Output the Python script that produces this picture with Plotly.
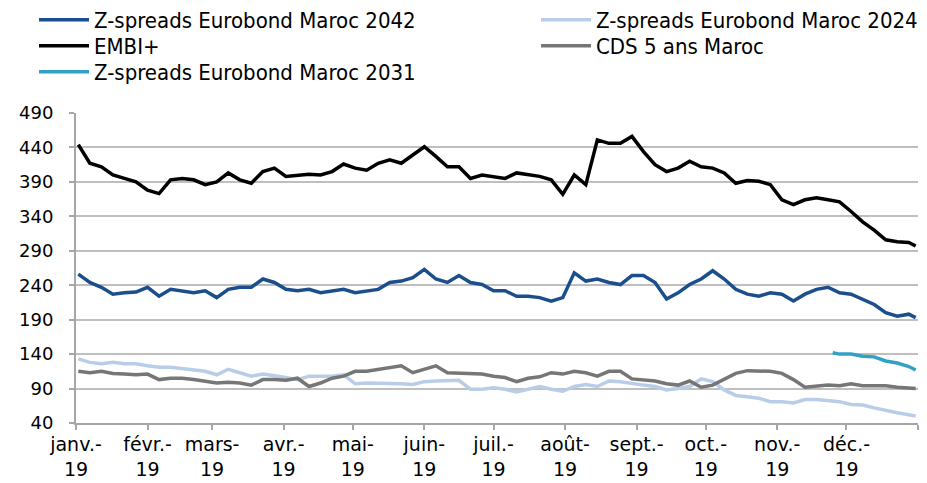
import pandas as pd
import plotly.graph_objects as go

# sampling dates (every 5 days) + year end
dates = list(pd.date_range("2019-01-02", periods=73, freq="5D")) + [pd.Timestamp("2019-12-31")]

embi = [444, 417, 412, 400, 395, 390, 378, 373, 393, 395, 393, 386, 390, 403, 393, 388,
        405, 410, 398, 399, 401, 400, 405, 416, 410, 407, 417, 422, 417, 429, 441, 427,
        412, 412, 395, 400, 398, 395, 403, 400, 398, 393, 372, 400, 386, 451, 446, 446,
        456, 434, 415, 405, 410, 420, 412, 410, 403, 388, 392, 391, 386, 364, 357, 364,
        367, 364, 361, 347, 332, 320, 306, 303, 302, 297]

z2042 = [256, 244, 237, 227, 229, 230, 237, 224, 234, 232, 229, 232, 222, 234, 237, 237,
         249, 244, 234, 232, 234, 229, 232, 234, 229, 232, 234, 244, 246, 251, 263, 249,
         244, 254, 244, 241, 232, 232, 224, 224, 222, 217, 222, 258, 246, 249, 244, 241,
         254, 254, 244, 220, 229, 241, 249, 261, 249, 234, 227, 224, 229, 227, 217, 227,
         234, 237, 229, 227, 220, 212, 200, 195, 198, 193]

z2024 = [133, 128, 126, 128, 126, 126, 123, 121, 121, 119, 118, 115, 110, 118, 113, 108,
         111, 109, 106, 103, 108, 108, 108, 110, 97, 98, 98, 98, 97, 96, 100, 101,
         101, 102, 89, 89, 91, 89, 85, 89, 93, 89, 86, 93, 96, 93, 101, 100,
         97, 95, 93, 88, 90, 93, 104, 100, 88, 80, 78, 76, 71, 71, 69, 74,
         74, 72, 71, 67, 66, 62, 58, 55, 52, 50]

cds = [115, 113, 115, 112, 111, 110, 111, 103, 105, 105, 103, 101, 98, 99, 98, 95,
       103, 103, 102, 105, 93, 98, 105, 108, 115, 115, 118, 120, 123, 113, 118, 123,
       113, 112, 111, 111, 108, 106, 100, 105, 107, 113, 111, 115, 113, 108, 115, 115,
       104, 102, 101, 97, 95, 101, 92, 95, 103, 112, 116, 116, 115, 112, 103, 92,
       94, 95, 94, 97, 94, 94, 94, 92, 91, 90]

dates_2031 = ["2019-11-25", "2019-11-28", "2019-12-03", "2019-12-08", "2019-12-13",
              "2019-12-18", "2019-12-23", "2019-12-28", "2019-12-31"]
z2031 = [142, 140, 140, 137, 136, 130, 127, 122, 117]

month_ticks = ["2019-%02d-01" % m for m in range(1, 13)] + ["2020-01-01"]
month_labels = ["janv.-", "févr.-", "mars-", "avr.-", "mai-", "juin-", "juil.-",
                "août-", "sept.-", "oct.-", "nov.-", "déc.-"]
tick_text = [m + "<br>19" for m in month_labels] + [""]

COND = "DejaVu Sans Condensed, DejaVu Sans, sans-serif"

# page body has an 8px margin, so the figure is sized to fill the rest of the window
W, H = 919, 475

fig = go.Figure()
# (name, x, y, colour, legend slot)
series = [
    ("Z-spreads Eurobond Maroc 2042", dates, z2042, "#1B4E8C", "legend"),
    ("Z-spreads Eurobond Maroc 2024", dates, z2024, "#B9CDE8", "legend2"),
    ("EMBI+", dates, embi, "#000000", "legend3"),
    ("CDS 5 ans Maroc", dates, cds, "#767676", "legend4"),
    ("Z-spreads Eurobond Maroc 2031", dates_2031, z2031, "#33A1C4", "legend5"),
]
for name, xs, ys, col, leg in series:
    fig.add_trace(go.Scatter(x=xs, y=ys, name=name, mode="lines", legend=leg,
                             showlegend=True, line=dict(color=col, width=3.5)))


def leg(x_px, y_px):
    # one legend per entry so the 2-column grid matches the original
    return dict(xref="container", yref="container",
                x=x_px / W, y=1 - y_px / H, xanchor="left", yanchor="middle",
                font=dict(size=22, family=COND, color="black"),
                bgcolor="rgba(0,0,0,0)", itemwidth=50, visible=True)


fig.update_layout(
    width=W, height=H, showlegend=True,
    margin=dict(l=68, r=9, t=105, b=60, autoexpand=False),
    paper_bgcolor="white", plot_bgcolor="white",
    font=dict(family=COND, color="black"),
    legend=leg(26, 12), legend2=leg(528, 12),
    legend3=leg(26, 38), legend4=leg(528, 38),
    legend5=leg(26, 64),
    xaxis=dict(type="date", range=["2019-01-01", "2020-01-01"],
               tickmode="array", tickvals=month_ticks, ticktext=tick_text,
               tickfont=dict(size=19, family="DejaVu Sans", color="black"),
               ticks="outside", ticklen=5, tickcolor="#A6A6A6", tickwidth=1.5,
               ticklabelstandoff=-2,
               showgrid=False, showline=True, linecolor="#A6A6A6", linewidth=2,
               zeroline=False, automargin=False),
    yaxis=dict(range=[40, 490], tickmode="array",
               tickvals=[40, 90, 140, 190, 240, 290, 340, 390, 440, 490],
               tickfont=dict(size=18, family="DejaVu Sans", color="black"),
               ticks="outside", ticklen=5, tickcolor="#A6A6A6", tickwidth=1.5,
               ticklabelstandoff=12, automargin=False,
               showgrid=True, gridcolor="#BFBFBF", gridwidth=1.5,
               showline=True, linecolor="#A6A6A6", linewidth=2, zeroline=False),
)

fig.write_html("out.html")
